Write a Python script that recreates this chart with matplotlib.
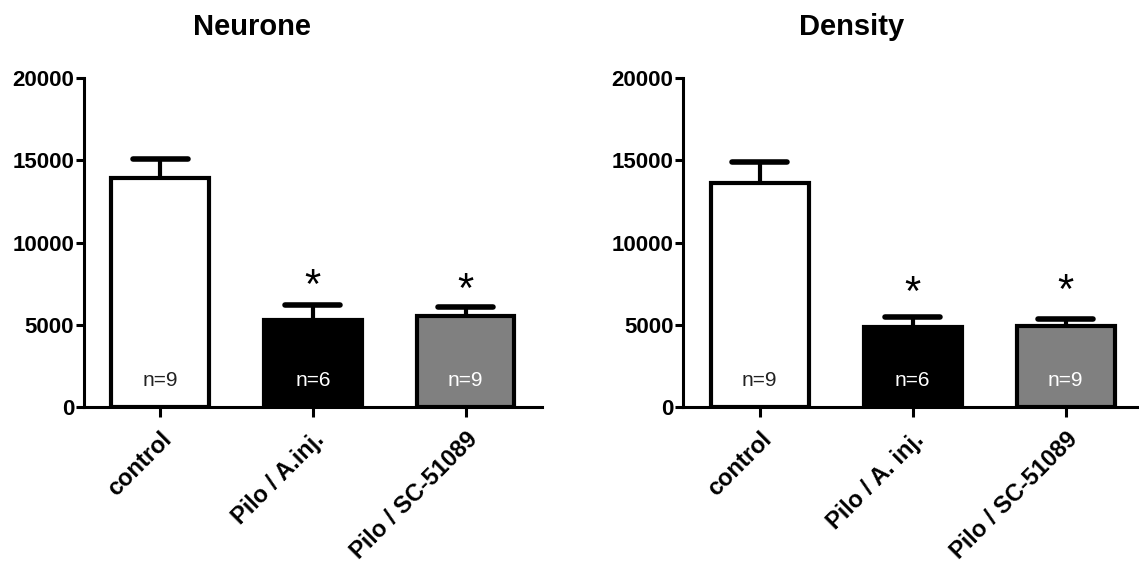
import numpy as np
import matplotlib
matplotlib.use("Agg")
import matplotlib.pyplot as plt

plt.rcParams['font.family'] = ['Liberation Sans', 'DejaVu Sans']

# data
groups_neur = ['control', 'Pilo / A.inj.', 'Pilo / SC-51089']
groups_dens = ['control', 'Pilo / A. inj.', 'Pilo / SC-51089']
neur_mean = [13920, 5300, 5530]
neur_sem = [1170, 940, 540]
dens_mean = [13620, 4870, 4910]
dens_sem = [1310, 640, 460]
n_labels = ['n=9', 'n=6', 'n=9']
neur_stars = ['', '*', '*']
dens_stars = ['', '*', '*']
neur_star_y = [0, 7300, 7060]
dens_star_y = [0, 6900, 7000]
bar_colors = ['white', 'black', '#808080']
n_colors = ['#222222', 'white', 'white']

fig = plt.figure(figsize=(11.39, 5.67), dpi=100)
ax1 = fig.add_axes([0.0737, 0.282, 0.402, 0.580])
ax2 = fig.add_axes([0.5997, 0.282, 0.403, 0.580])


def draw(ax, labels, means, sem, stars, star_y):
    x = np.arange(len(labels))
    ax.bar(x, means, width=0.64, color=bar_colors, edgecolor='black',
           linewidth=3, zorder=3)
    tops = np.array(means) + np.array(sem)
    ax.vlines(x, means, tops, color='black', linewidth=3, zorder=2)
    ax.hlines(tops, x - 0.18, x + 0.18, color='black', linewidth=4,
              capstyle='round', zorder=2)
    for i in range(len(x)):
        ax.text(x[i], 1600, n_labels[i], ha='center', va='center',
                fontsize=15, color=n_colors[i], zorder=4)
        if stars[i]:
            ax.text(x[i], star_y[i], stars[i], ha='center', va='center',
                    fontsize=30, zorder=4)
    ax.set_xlim(-0.5, 2.5)
    ax.set_ylim(0, 20000)
    ax.set_yticks([0, 5000, 10000, 15000, 20000])
    ax.set_xticks(x)
    ax.set_xticklabels(labels, rotation=45, ha='right', rotation_mode='anchor',
                       fontsize=17, fontweight='bold')
    for t in ax.get_yticklabels():
        t.set_fontsize(16)
        t.set_fontweight('bold')
    ax.spines['top'].set_visible(False)
    ax.spines['right'].set_visible(False)
    ax.spines['left'].set_linewidth(2.2)
    ax.spines['bottom'].set_linewidth(2.2)
    ax.tick_params(axis='y', length=6, width=2.2, pad=1)
    ax.tick_params(axis='x', length=7, width=2.2, pad=8)


draw(ax1, groups_neur, neur_mean, neur_sem, neur_stars, neur_star_y)
draw(ax2, groups_dens, dens_mean, dens_sem, dens_stars, dens_star_y)

fig.text(0.221, 0.952, 'Neurone', ha='center', va='center', fontsize=21, fontweight='bold')
fig.text(0.748, 0.952, 'Density', ha='center', va='center', fontsize=21, fontweight='bold')

plt.savefig('out.png', dpi=100)
